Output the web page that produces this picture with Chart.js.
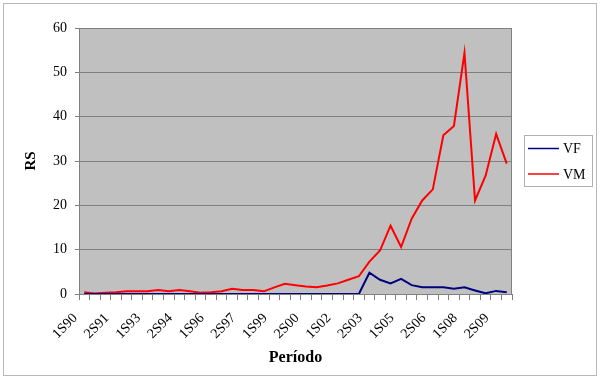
<!DOCTYPE html>
<html>
<head>
<meta charset="utf-8">
<script src="https://cdn.jsdelivr.net/npm/chart.js@4"></script>
<style>
  html, body { margin: 0; padding: 0; background: #ffffff; }
  #wrap { width: 600px; height: 380px; position: relative; }
</style>
</head>
<body>
<div id="wrap"><canvas id="c" width="600" height="380"></canvas></div>
<script>
const categories = ["1S90","2S90","1S91","2S91","1S92","2S92","1S93","2S93","1S94","2S94",
  "1S95","2S95","1S96","2S96","1S97","2S97","1S98","2S98","1S99","2S99",
  "1S00","2S00","1S01","2S01","1S02","2S02","1S03","2S03","1S04","2S04",
  "1S05","2S05","1S06","2S06","1S07","2S07","1S08","2S08","1S09","2S09","1S10"];
const seriesVF = [0,0,0,0,0,0,0,0,0,0,
  0,0,0,0,0,0,0,0,0,0,
  0,0,0,0,0,0,0,4.8,3.2,2.4,
  3.4,2.0,1.5,1.5,1.5,1.2,1.5,0.8,0.15,0.7,0.4];
const seriesVM = [0.4,0.1,0.3,0.4,0.6,0.6,0.6,0.9,0.6,0.9,
  0.6,0.3,0.4,0.6,1.2,0.9,0.9,0.6,1.5,2.3,
  2.0,1.7,1.5,1.9,2.4,3.2,4.0,7.3,9.8,15.4,
  10.6,17.0,21.1,23.6,35.8,37.9,54.4,21.1,26.7,36.1,29.4];
const yTicks = [0,10,20,30,40,50,60];
const seriesNames = ["VF","VM"];

const FONT = "'Liberation Serif', 'Times New Roman', serif";

const frameAndLegend = {
  id: 'frameAndLegend',
  beforeDraw(chart) {
    const {ctx, chartArea: a} = chart;
    ctx.save();
    ctx.fillStyle = '#ffffff';
    ctx.fillRect(0, 0, chart.width, chart.height);
    ctx.strokeStyle = '#b8b8b8';
    ctx.lineWidth = 1;
    ctx.strokeRect(3.5, 3.5, 593, 372);
    ctx.fillStyle = '#c0c0c0';
    ctx.fillRect(a.left, a.top, a.right - a.left, a.bottom - a.top);
    ctx.strokeStyle = '#808080';
    ctx.strokeRect(a.left + 0.5, a.top + 0.5, a.right - a.left - 1, a.bottom - a.top);
    ctx.restore();
  },
  afterDraw(chart) {
    const {ctx} = chart;
    ctx.save();
    ctx.strokeStyle = '#b0b0b0';
    ctx.lineWidth = 1;
    ctx.strokeRect(524.5, 135.5, 68, 51);
    ctx.font = "14px " + FONT;
    ctx.textBaseline = 'middle';
    ctx.textAlign = 'left';
    chart.data.datasets.forEach((ds, i) => {
      const y = 148.5 + i * 25.5;
      ctx.strokeStyle = ds.borderColor;
      ctx.lineWidth = 1.5;
      ctx.beginPath();
      ctx.moveTo(528, y);
      ctx.lineTo(559, y);
      ctx.stroke();
      ctx.fillStyle = '#000000';
      ctx.fillText(ds.label, 563, y + 1);
    });
    ctx.restore();
  }
};

new Chart(document.getElementById('c'), {
  type: 'line',
  data: {
    labels: categories,
    datasets: [
      { label: seriesNames[0], data: seriesVF, borderColor: '#000080', backgroundColor: '#000080',
        borderWidth: 2, pointRadius: 0, tension: 0, fill: false },
      { label: seriesNames[1], data: seriesVM, borderColor: '#ff0000', backgroundColor: '#ff0000',
        borderWidth: 2, pointRadius: 0, tension: 0, fill: false }
    ]
  },
  options: {
    responsive: false,
    animation: false,
    layout: { padding: { top: 28, right: 88, left: 0, bottom: 0 } },
    plugins: { legend: { display: false }, tooltip: { enabled: false } },
    scales: {
      x: {
        type: 'category',
        offset: true,
        grid: { display: true, drawOnChartArea: false, offset: true, tickLength: 6, color: '#808080' },
        border: { display: true, color: '#808080' },
        ticks: {
          autoSkip: false, minRotation: 45, maxRotation: 45, padding: 10, labelOffset: -9,
          color: '#000000', font: { family: FONT, size: 14 },
          callback: function(v, i) { return i % 3 === 0 ? categories[i] : ''; }
        },
        title: { display: true, text: 'Período', color: '#000000',
          font: { family: FONT, size: 16, weight: 'bold' }, padding: { top: 0, bottom: 13 } },
        afterFit: function(s) { s.height = 86; }
      },
      y: {
        min: 0, max: 60,
        afterBuildTicks: function(s) { s.ticks = yTicks.map(v => ({ value: v })); },
        grid: { color: '#808080', tickLength: 4, tickColor: '#808080' },
        border: { display: true, color: '#808080' },
        ticks: { padding: 8, color: '#000000', font: { family: FONT, size: 14 } },
        title: { display: true, text: 'RS', color: '#000000',
          font: { family: FONT, size: 15, weight: 'bold' }, padding: { top: 22, bottom: 0 } },
        afterFit: function(s) { s.width = 79; }
      }
    }
  },
  plugins: [frameAndLegend]
});
</script>
</body>
</html>
